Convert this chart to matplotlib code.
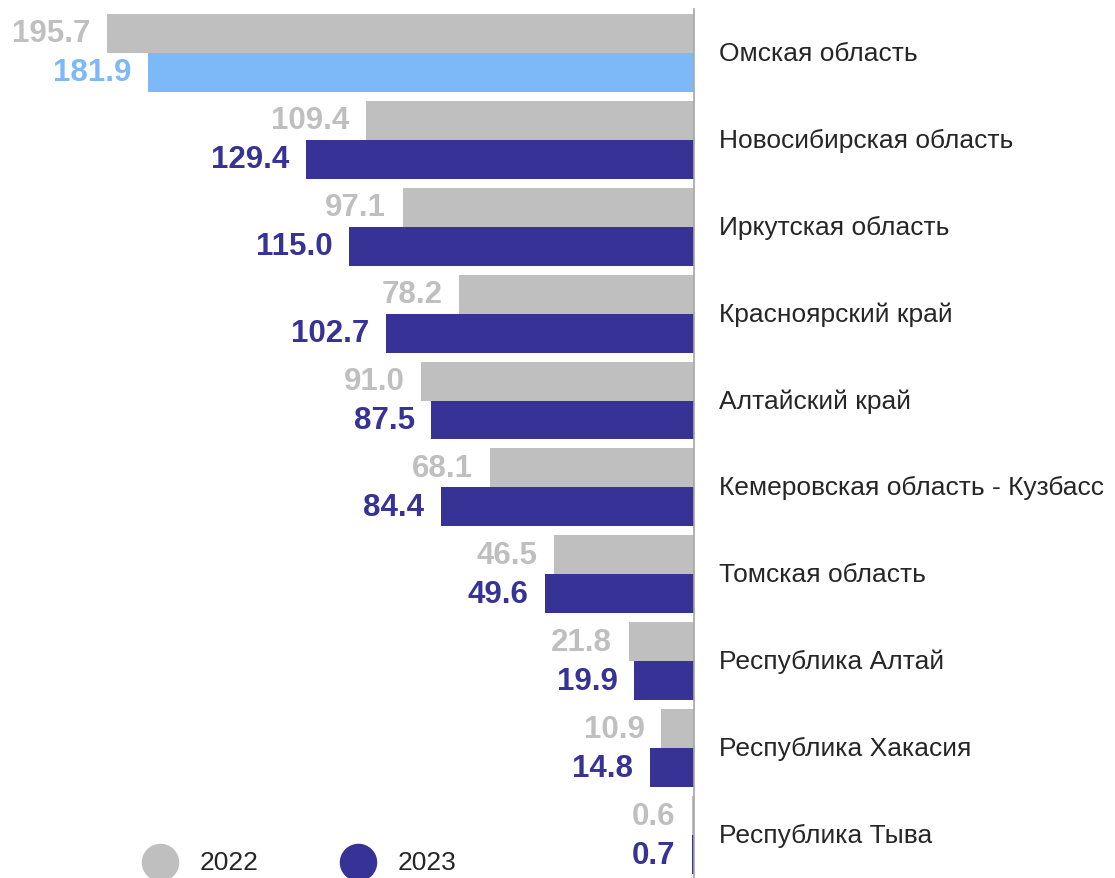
import matplotlib
matplotlib.use('Agg')
import matplotlib.pyplot as plt
import numpy as np

plt.rcParams['font.family'] = ['Liberation Sans', 'DejaVu Sans']

regions = ['Омская область', 'Новосибирская область', 'Иркутская область',
           'Красноярский край', 'Алтайский край', 'Кемеровская область - Кузбасс',
           'Томская область', 'Республика Алтай', 'Республика Хакасия', 'Республика Тыва']
v2022 = [195.7, 109.4, 97.1, 78.2, 91.0, 68.1, 46.5, 21.8, 10.9, 0.6]
v2023 = [181.9, 129.4, 115.0, 102.7, 87.5, 84.4, 49.6, 19.9, 14.8, 0.7]
years = ['2022', '2023']

gray = '#bfbfbf'
navy = '#373296'
light = '#7db9f9'
colors23 = [light] + [navy] * (len(regions) - 1)

W, H = 1115, 879
fig = plt.figure(figsize=(W / 100, H / 100), dpi=100)
ax_right = 694
ax = fig.add_axes([0, 0, ax_right / W, 1])

pitch = 87
y = np.arange(len(regions))
bh = 39 / pitch

ax.barh(y - bh / 2, v2022, height=bh, color=gray)
ax.barh(y + bh / 2, v2023, height=bh, color=colors23)

ax.set_xlim(ax_right / 3.0, 0)
ax.set_ylim((H - 53) / pitch, -54 / pitch)

for i in range(len(regions)):
    ax.annotate(f'{v2022[i]:.1f}', (v2022[i], y[i] - bh / 2), xytext=(-12, 0),
                textcoords='offset points', ha='right', va='center',
                fontsize=22.5, fontweight='bold', color=gray)
    ax.annotate(f'{v2023[i]:.1f}', (v2023[i], y[i] + bh / 2), xytext=(-12, 0),
                textcoords='offset points', ha='right', va='center',
                fontsize=22.5, fontweight='bold', color=colors23[i])
    ax.annotate(regions[i], (0, y[i]), xytext=(18, 0), textcoords='offset points',
                ha='left', va='center', fontsize=19, color='#262626',
                annotation_clip=False)

for s in ['top', 'left', 'bottom']:
    ax.spines[s].set_visible(False)
ax.spines['right'].set_color('#a6a6a6')
ax.spines['right'].set_linewidth(1.2)
ax.spines['right'].set_bounds(-44 / pitch, (H - 53) / pitch)
ax.set_xticks([])
ax.set_yticks([])

# legend
leg_y = 1 - 863 / H
for x0, c, lab in [(160, gray, years[0]), (358, navy, years[1])]:
    fig.lines.append(plt.Line2D([x0 / W], [leg_y], marker='o', markersize=26,
                                color=c, transform=fig.transFigure))
    fig.text((x0 + 40) / W, leg_y, lab, ha='left', va='center',
             fontsize=19, color='#262626')

fig.savefig('out.png', dpi=100)
